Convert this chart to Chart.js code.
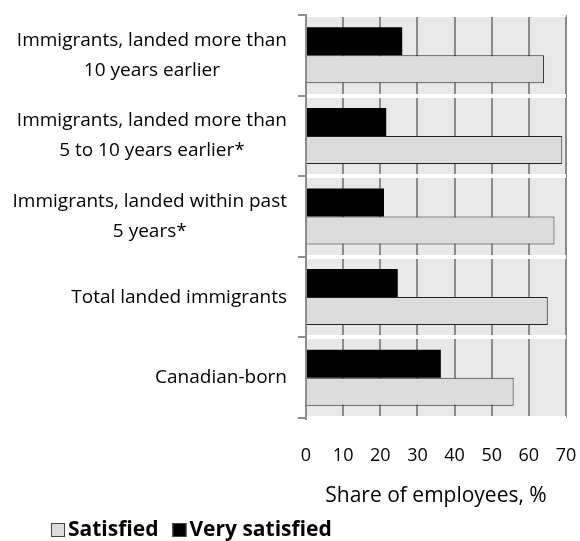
<!DOCTYPE html>
<html>
<head>
<meta charset="utf-8">
<script src="https://cdn.jsdelivr.net/npm/chart.js@4.4.1/dist/chart.umd.min.js"></script>
<style>
  html, body { margin: 0; padding: 0; background: #fff; }
</style>
</head>
<body>
<canvas id="satChart" width="580" height="541"></canvas>
<script>
// 범주 라벨 (여러 줄)
const categories = [
    ['Immigrants, landed more than', '10 years earlier'],
    ['Immigrants, landed more than', '5 to 10 years earlier*'],
    ['Immigrants, landed within past', '5 years*'],
    ['Total landed immigrants'],
    ['Canadian-born']
];
const verySatisfied = [25.9, 21.6, 21.0, 24.7, 36.3];
const satisfied = [64.1, 69.0, 66.9, 65.1, 55.9];
const xMin = 0;
const xMax = 70;
const xStep = 10;
const xTitle = 'Share of employees, %';

const FONT = '"Open Sans", Lato, sans-serif';

// 플롯 영역 배경
const plotBg = {
    id: 'plotBg',
    beforeDraw(chart) {
        const a = chart.chartArea;
        const ctx = chart.ctx;
        ctx.save();
        ctx.fillStyle = '#e8e8e8';
        ctx.fillRect(a.left, a.top, a.right - a.left, a.bottom - a.top);
        ctx.restore();
    }
};

// 범주 라벨과 범례 그리기
const extras = {
    id: 'extras',
    afterDraw(chart) {
        const ctx = chart.ctx;
        const yScale = chart.scales.y;
        ctx.save();
        ctx.font = '19px ' + FONT;
        ctx.fillStyle = '#000';
        ctx.textAlign = 'center';
        ctx.textBaseline = 'middle';
        const right = 287;
        categories.forEach((lines, i) => {
            const w = Math.max(...lines.map(l => ctx.measureText(l).width));
            const cx = right - w / 2;
            const cy = yScale.getPixelForValue(i);
            lines.forEach((l, j) => {
                ctx.fillText(l, cx, cy + (j - (lines.length - 1) / 2) * 30);
            });
        });

        // 범례: Satisfied 먼저
        const ds = chart.data.datasets.slice().reverse();
        let x = 51;
        const y = 530;
        ctx.font = 'bold 21px ' + FONT;
        ctx.textAlign = 'left';
        ds.forEach(d => {
            ctx.fillStyle = d.backgroundColor;
            ctx.fillRect(x, y - 7, 14, 14);
            ctx.strokeStyle = '#444';
            ctx.lineWidth = 1;
            ctx.strokeRect(x + 0.5, y - 6.5, 13, 13);
            x += 17;
            ctx.fillStyle = '#000';
            ctx.fillText(d.label, x, y);
            x += ctx.measureText(d.label).width + 14;
        });
        ctx.restore();
    }
};

const ctx = document.getElementById('satChart').getContext('2d');
new Chart(ctx, {
    type: 'bar',
    data: {
        labels: categories,
        datasets: [{
            label: 'Very satisfied',
            data: verySatisfied,
            backgroundColor: '#000000',
            borderColor: '#000000',
            borderWidth: 0
        }, {
            label: 'Satisfied',
            data: satisfied,
            backgroundColor: '#dcdcdc',
            borderColor: '#222222',
            borderWidth: 1
        }]
    },
    options: {
        indexAxis: 'y',
        responsive: false,
        animation: false,
        devicePixelRatio: 1,
        categoryPercentage: 0.695,
        barPercentage: 1,
        layout: { padding: { top: 15, right: 14, bottom: 28, left: 0 } },
        scales: {
            x: {
                min: xMin,
                max: xMax,
                ticks: {
                    stepSize: xStep,
                    color: '#000',
                    padding: 3,
                    font: { family: FONT, size: 18 }
                },
                grid: {
                    color: '#8c8c8c',
                    lineWidth: 2,
                    drawTicks: true,
                    tickLength: 24,
                    tickColor: 'rgba(0,0,0,0)'
                },
                border: { display: false },
                title: {
                    display: true,
                    text: xTitle,
                    color: '#000',
                    font: { family: FONT, size: 21 },
                    padding: { top: 8, bottom: 4 }
                },
                afterFit(s) { s.height = 95; }
            },
            y: {
                ticks: { display: false },
                grid: {
                    color: '#ffffff',
                    lineWidth: 4,
                    tickColor: '#8c8c8c',
                    tickWidth: 2,
                    tickLength: 8,
                    offset: true
                },
                border: { color: '#8c8c8c', width: 2 },
                afterFit(s) { s.width = 306; }
            }
        },
        plugins: {
            legend: { display: false },
            tooltip: { enabled: false }
        }
    },
    plugins: [plotBg, extras]
});
</script>
</body>
</html>
